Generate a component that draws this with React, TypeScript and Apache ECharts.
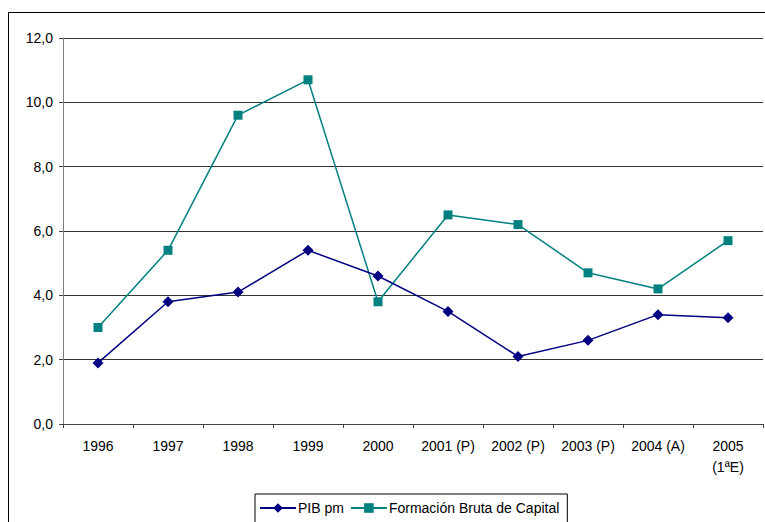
import React, { useEffect, useRef } from "react";
import * as echarts from "echarts";

const categories = ["1996", "1997", "1998", "1999", "2000", "2001 (P)", "2002 (P)", "2003 (P)", "2004 (A)", "2005\n(1ªE)"];
const pibValues = [1.9, 3.8, 4.1, 5.4, 4.6, 3.5, 2.1, 2.6, 3.4, 3.3];
const fbcValues = [3.0, 5.4, 9.6, 10.7, 3.8, 6.5, 6.2, 4.7, 4.2, 5.7];
const seriesNames = ["PIB pm", "Formación Bruta de Capital"];

const FONT = "'Liberation Sans', Arial, sans-serif";

export default function App() {
  const ref = useRef<HTMLDivElement>(null);
  useEffect(() => {
    if (!ref.current) return;
    const chart = echarts.init(ref.current, null, { renderer: "svg" });
    chart.setOption({
      animation: false,
      backgroundColor: "#ffffff",
      textStyle: { fontFamily: FONT },
      graphic: [
        {
          type: "rect",
          shape: { x: 8.5, y: 12.5, width: 800, height: 600 },
          style: { fill: "none", stroke: "#000", lineWidth: 1 },
          z: 0,
        },
      ],
      grid: { left: 63, top: 38, right: 2, bottom: 98 },
      legend: {
        top: 494,
        left: 255,
        itemGap: 6,
        itemWidth: 36,
        itemHeight: 12,
        padding: [7, 8, 10, 4],
        borderColor: "#000",
        borderWidth: 1,
        borderRadius: 0,
        textStyle: { fontFamily: FONT, fontSize: 14, color: "#000", padding: [0, 0, 0, -3] },
        data: seriesNames,
      },
      xAxis: {
        type: "category",
        data: categories,
        boundaryGap: true,
        axisLine: { lineStyle: { color: "#404040", width: 1 } },
        axisTick: { show: true, alignWithLabel: false, length: 4, lineStyle: { color: "#404040" } },
        axisLabel: { color: "#000", fontSize: 14, fontFamily: FONT, margin: 11, lineHeight: 21, interval: 0 },
        splitLine: { show: false },
      },
      yAxis: {
        type: "value",
        min: 0,
        max: 12,
        interval: 2,
        axisLine: { show: true, lineStyle: { color: "#808080", width: 1 } },
        axisTick: { show: true, length: 4, lineStyle: { color: "#404040" } },
        axisLabel: {
          color: "#000",
          fontSize: 14,
          fontFamily: FONT,
          margin: 10,
          formatter: (v: number) => v.toFixed(1).replace(".", ","),
        },
        splitLine: { show: true, lineStyle: { color: "#333", width: 1 } },
      },
      series: [
        {
          name: seriesNames[0],
          type: "line",
          data: pibValues,
          symbol: "diamond",
          symbolSize: 11,
          color: "#000080",
          lineStyle: { color: "#000080", width: 1.5 },
          itemStyle: { color: "#000080" },
          z: 3,
        },
        {
          name: seriesNames[1],
          type: "line",
          data: fbcValues,
          symbol: "rect",
          symbolSize: 9,
          color: "#008080",
          lineStyle: { color: "#008080", width: 1.5 },
          itemStyle: { color: "#008080" },
          z: 2,
        },
      ],
    });
    return () => chart.dispose();
  }, []);
  return (
    <div
      ref={ref}
      style={{ position: "absolute", left: 0, top: 0, width: 765, height: 522 }}
    />
  );
}
